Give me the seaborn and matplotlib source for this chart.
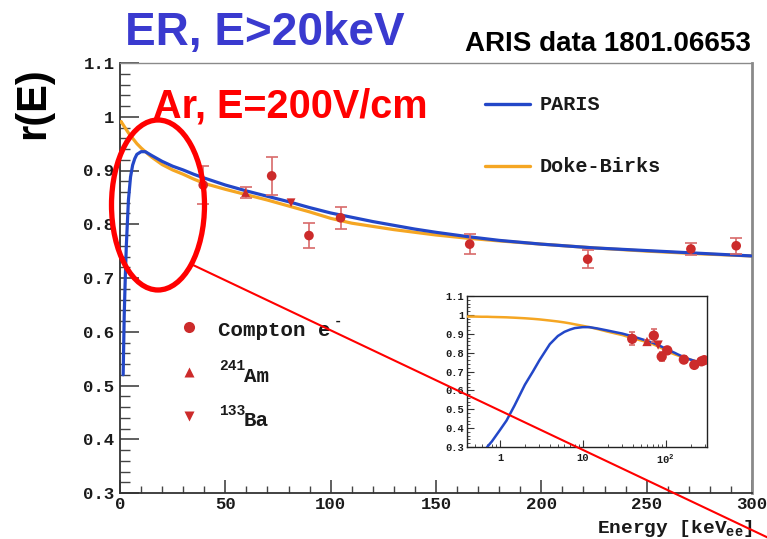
import numpy as np
import pandas as pd
import matplotlib
matplotlib.use("Agg")
import matplotlib.pyplot as plt
import seaborn as sns
from matplotlib.patches import Ellipse
from matplotlib.lines import Line2D
from matplotlib.ticker import MultipleLocator, FixedLocator, FuncFormatter, LogLocator, NullFormatter

# ---------------------------------------------------------------- data
# model curves r(E) on a common energy grid [keV_ee]
energy_model = [0.4, 0.5, 0.6, 0.7, 0.8, 1.0, 1.2, 1.5, 2.0, 2.5, 3.0, 4.0, 5.0,
                6.0, 7.0, 8.0, 10, 12, 15, 20, 25, 30, 35, 40, 50, 60, 70, 80,
                90, 100, 110, 120, 130, 140, 150, 165, 180, 200, 225, 250,
                275, 300]
paris = [np.nan, np.nan, np.nan, 0.30, 0.33, 0.39, 0.44, 0.52, 0.63, 0.70, 0.76,
         0.845, 0.888, 0.910, 0.922, 0.930, 0.935, 0.935, 0.928, 0.917, 0.908,
         0.901, 0.893, 0.886, 0.873, 0.862, 0.852, 0.842, 0.831, 0.821, 0.813,
         0.805, 0.798, 0.791, 0.785, 0.777, 0.770, 0.763, 0.756, 0.751, 0.746,
         0.741]
doke_birks = [0.991, 0.991, 0.990, 0.990, 0.989, 0.988, 0.987, 0.985, 0.982,
              0.979, 0.976, 0.970, 0.965, 0.960, 0.955, 0.950, 0.942, 0.935,
              0.925, 0.911, 0.901, 0.893, 0.884, 0.876, 0.865, 0.855, 0.845,
              0.834, 0.823, 0.811, 0.802, 0.796, 0.790, 0.785, 0.780, 0.774,
              0.769, 0.763, 0.756, 0.750, 0.745, 0.741]

# ARIS measurements
compton_E = [39.5, 72.0, 89.7, 104.7, 166.0, 222.0, 271.0, 292.5]
compton_r = [0.873, 0.890, 0.779, 0.812, 0.763, 0.735, 0.754, 0.760]
compton_err = [0.035, 0.036, 0.023, 0.020, 0.018, 0.017, 0.012, 0.015]
am_E = [59.6]
am_r = [0.859]
am_err = [0.010]
ba_E = [81.2]
ba_r = [0.840]
ba_err = [0.004]

y_ticks = [0.3, 0.4, 0.5, 0.6, 0.7, 0.8, 0.9, 1.0, 1.1]
x_ticks = [0, 50, 100, 150, 200, 250, 300]

# ---------------------------------------------------------------- style
sns.set_theme(style="ticks")
MONO = ["Liberation Mono", "DejaVu Sans Mono"]
SANS = ["Liberation Sans", "DejaVu Sans"]
plt.rcParams["font.family"] = MONO
plt.rcParams["mathtext.fontset"] = "custom"
plt.rcParams["mathtext.rm"] = "Liberation Mono:bold"

BLUE = "#2347c8"
ORANGE = "#f5a623"
RED_PT = "#cc2b2b"
RED_ERR = "#d86a6a"

curves = pd.DataFrame({"E": energy_model, "PARIS": paris, "Doke-Birks": doke_birks})

fig = plt.figure(figsize=(7.67, 5.39), dpi=100)
fig.patch.set_facecolor("white")

W, H = 767.0, 539.0


def fx(px):
    return px / W


def fy(py):
    return 1.0 - py / H


# ---------------------------------------------------------------- main axes
ax = fig.add_axes([fx(120), fy(493), fx(752) - fx(120), fy(63) - fy(493)])
ax.set_facecolor("white")

main_blue = curves[curves["E"] >= 1.5]
main_orange = curves[curves["E"] >= 0.5]
sns.lineplot(data=main_orange, x="E", y="Doke-Birks", ax=ax, color=ORANGE, lw=2.3,
             sort=False, zorder=3)
sns.lineplot(data=main_blue, x="E", y="PARIS", ax=ax, color=BLUE, lw=2.3,
             sort=False, zorder=4)


def draw_points(a, ms_circle, ms_tri, cap):
    a.errorbar(compton_E, compton_r, yerr=compton_err, fmt="none", ecolor=RED_ERR,
               elinewidth=1.2, capsize=cap, capthick=1.2, zorder=5)
    a.errorbar(am_E, am_r, yerr=am_err, fmt="none", ecolor=RED_ERR,
               elinewidth=1.2, capsize=cap, capthick=1.2, zorder=5)
    sns.scatterplot(x=compton_E, y=compton_r, ax=a, marker="o", s=ms_circle,
                    color=RED_PT, edgecolor="none", zorder=6)
    sns.scatterplot(x=am_E, y=am_r, ax=a, marker="^", s=ms_tri,
                    color=RED_PT, edgecolor="none", zorder=6)
    sns.scatterplot(x=ba_E, y=ba_r, ax=a, marker="v", s=ms_tri,
                    color=RED_PT, edgecolor="none", zorder=6)


draw_points(ax, 48, 40, 4)

ax.set_xlim(0, 300)
ax.set_ylim(0.3, 1.1)
ax.set_xlabel("")
ax.set_ylabel("")
ax.xaxis.set_major_locator(FixedLocator(x_ticks))
ax.xaxis.set_minor_locator(MultipleLocator(10))
ax.yaxis.set_major_locator(FixedLocator(y_ticks))
ax.yaxis.set_minor_locator(MultipleLocator(0.02))
ax.yaxis.set_major_formatter(FuncFormatter(lambda v, p: f"{v:g}"))
ax.tick_params(axis="both", which="both", direction="in", colors="#444444",
               labelcolor="#1a1a1a", top=False, right=False)
ax.tick_params(axis="y", which="major", length=13.5, width=1.2, pad=4)
ax.tick_params(axis="y", which="minor", length=7, width=1.0)
ax.tick_params(axis="x", which="major", length=9.5, width=1.2, pad=3)
ax.tick_params(axis="x", which="minor", length=5, width=1.0)
for lab in ax.get_xticklabels() + ax.get_yticklabels():
    lab.set_fontfamily(MONO)
    lab.set_fontweight("bold")
    lab.set_fontsize(12.5)
for side, col, lw in [("left", "#333333", 1.3), ("bottom", "#333333", 1.3),
                      ("top", "#8a8a8a", 1.0), ("right", "#8a8a8a", 2.0)]:
    ax.spines[side].set_color(col)
    ax.spines[side].set_linewidth(lw)
    ax.spines[side].set_visible(True)


def ax_x(px):
    return (px - 120) / 632.0


def ax_y(py):
    return (493 - py) / 430.0


# upper legend (model curves)
for py, col, name in [(104, BLUE, "PARIS"), (166, ORANGE, "Doke-Birks")]:
    ax.add_line(Line2D([ax_x(485), ax_x(530)], [ax_y(py), ax_y(py)], color=col,
                       lw=2.4, transform=ax.transAxes, clip_on=False))
    ax.text(ax_x(540), ax_y(py), name, transform=ax.transAxes, ha="left",
            va="center", fontsize=14.5, fontweight="bold", family=MONO,
            color="#1a1a1a")

# lower legend (data sets)
ax.plot([ax_x(189)], [ax_y(327)], marker="o", ms=8, color=RED_PT, mec="none",
        transform=ax.transAxes, clip_on=False)
ax.plot([ax_x(189)], [ax_y(372)], marker="^", ms=7.5, color=RED_PT, mec="none",
        transform=ax.transAxes, clip_on=False)
ax.plot([ax_x(189)], [ax_y(416)], marker="v", ms=7.5, color=RED_PT, mec="none",
        transform=ax.transAxes, clip_on=False)
ax.text(ax_x(218), ax_y(330), "Compton e", transform=ax.transAxes, ha="left",
        va="center", fontsize=15, fontweight="bold", family=MONO, color="#1a1a1a")
ax.text(ax_x(334), ax_y(321), "-", transform=ax.transAxes, ha="left",
        va="center", fontsize=10, fontweight="bold", family=MONO, color="#1a1a1a")
for py, iso, sym in [(376, "241", "Am"), (421, "133", "Ba")]:
    ax.text(ax_x(219), ax_y(py - 10), iso, transform=ax.transAxes, ha="left",
            va="center", fontsize=10.5, fontweight="bold", family=MONO,
            color="#1a1a1a")
    ax.text(ax_x(244), ax_y(py), sym, transform=ax.transAxes, ha="left",
            va="center", fontsize=15, fontweight="bold", family=MONO,
            color="#1a1a1a")

# ---------------------------------------------------------------- inset (log E)
ins = fig.add_axes([fx(467), fy(447), fx(707) - fx(467), fy(296) - fy(447)])
ins.set_facecolor("white")
sns.lineplot(data=curves, x="E", y="Doke-Birks", ax=ins, color=ORANGE, lw=1.8,
             sort=False, zorder=3)
sns.lineplot(data=curves, x="E", y="PARIS", ax=ins, color=BLUE, lw=1.8,
             sort=False, zorder=4)
draw_points(ins, 55, 45, 2.5)
ins.set_xscale("log")
ins.set_xlim(0.4, 316)
ins.set_ylim(0.3, 1.1)
ins.set_xlabel("")
ins.set_ylabel("")
ins.xaxis.set_major_locator(FixedLocator([1, 10, 100]))
ins.xaxis.set_major_formatter(FuncFormatter(
    lambda v, p: {1: "1", 10: "10", 100: r"10$^{2}$"}.get(int(round(v)), "")))
ins.xaxis.set_minor_locator(LogLocator(base=10, subs=np.arange(2, 10)))
ins.xaxis.set_minor_formatter(NullFormatter())
ins.yaxis.set_major_locator(FixedLocator(y_ticks))
ins.yaxis.set_minor_locator(MultipleLocator(0.02))
ins.yaxis.set_major_formatter(FuncFormatter(lambda v, p: f"{v:g}"))
ins.tick_params(axis="both", which="both", direction="in", colors="#333333",
                labelcolor="#1a1a1a", top=False, right=False, labelsize=7.5)
ins.tick_params(axis="y", which="major", length=5, width=0.8, pad=2)
ins.tick_params(axis="y", which="minor", length=2.5, width=0.6)
ins.tick_params(axis="x", which="major", length=5, width=0.8, pad=4)
ins.tick_params(axis="x", which="minor", length=2.5, width=0.6)
for lab in ins.get_xticklabels() + ins.get_yticklabels():
    lab.set_fontweight("bold")
for s in ins.spines.values():
    s.set_visible(True)
    s.set_color("#222222")
    s.set_linewidth(1.0)

# ---------------------------------------------------------------- titles and labels
fig.text(fx(125), fy(45), "ER, E>20keV", ha="left", va="baseline", fontsize=33,
         fontweight="bold", family=SANS, color="#3a3acf")
fig.text(fx(751), fy(51), "ARIS data 1801.06653", ha="right", va="baseline",
         fontsize=20, fontweight="bold", family=SANS, color="black")
fig.text(fx(33), fy(103), "r(E)", ha="center", va="center", rotation=90,
         fontsize=30, fontweight="bold", family=SANS, color="black")
fig.text(fx(153), fy(118), "Ar, E=200V/cm", ha="left", va="baseline", fontsize=28.5,
         fontweight="bold", family=SANS, color="#ff0000")
fig.text(fx(753), fy(533), r"Energy [keV$_{\mathrm{ee}}$]", ha="right",
         va="baseline", fontsize=14, fontweight="bold", family=MONO, color="#1a1a1a")

# highlight of the low-energy region and pointer to the inset
fig.add_artist(Ellipse((fx(158), fy(205)), fx(93), fy(0) - fy(170), fill=False,
                       edgecolor="#ff0000", lw=3.8, transform=fig.transFigure,
                       zorder=10))
fig.add_artist(Line2D([fx(193), fx(775)], [fy(265), fy(541)], color="#ff0000",
                      lw=1.5, transform=fig.transFigure, zorder=10))

fig.savefig("out.png", dpi=100, facecolor="white")
